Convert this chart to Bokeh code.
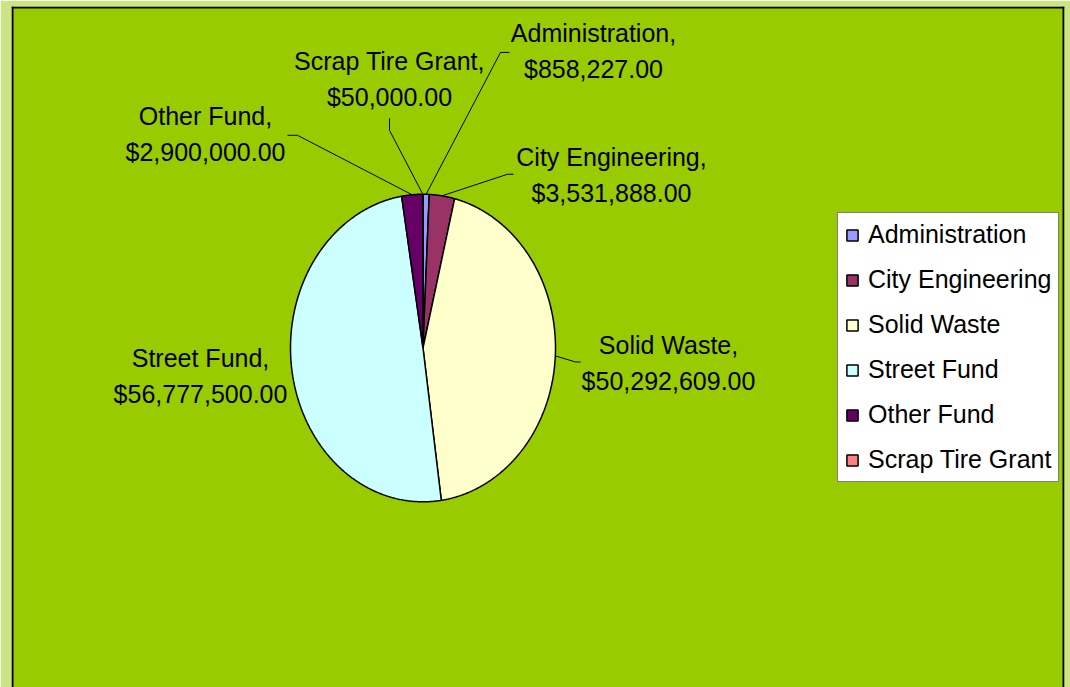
import math
from bokeh.plotting import figure
from bokeh.models import Range1d, Span
from bokeh.core.properties import value
from bokeh.embed import file_html
from bokeh.resources import INLINE

# ---- data ----
categories = ["Administration", "City Engineering", "Solid Waste",
              "Street Fund", "Other Fund", "Scrap Tire Grant"]
amounts = [858227.00, 3531888.00, 50292609.00, 56777500.00, 2900000.00, 50000.00]
colors = ["#9999ff", "#993366", "#ffffcc", "#ccffff", "#660066", "#ff8080"]

# ---- layout (pixels) ----
CX, CY, RX, RY = 422.5, 348.0, 132.5, 154.0
label_centers = {
    "Administration": (593, 51),
    "City Engineering": (611, 175),
    "Solid Waste": (668, 363),
    "Street Fund": (200, 376),
    "Other Fund": (205, 134),
    "Scrap Tire Grant": (389, 79),
}
leader_bends = {
    "Administration": [(500, 52), (509, 52)],
    "City Engineering": [(507, 174), (513, 174)],
    "Solid Waste": [(575, 362), (580, 362)],
    "Street Fund": None,
    "Other Fund": [(297, 135), (287, 135)],
    "Scrap Tire Grant": [(389, 130), (389, 118)],
}
LINE_GAP = 18

def ell(theta_deg):
    t = math.radians(theta_deg)
    return CX + RX * math.sin(t), CY - RY * math.cos(t)

p = figure(width=1070, height=687, output_backend="svg", toolbar_location=None,
           x_axis_type=None, y_axis_type=None,
           x_range=Range1d(11, 1064), y_range=Range1d(688, 6),
           min_border_left=11, min_border_right=6, min_border_top=6, min_border_bottom=0)
p.grid.visible = False
p.background_fill_color = "#99cc00"
p.border_fill_color = "#cde388"
p.outline_line_color = None

# plot-area frame: left, top and right edges (bottom runs off the page)
for loc, dim in [(12, "height"), (1063, "height"), (7, "width")]:
    p.add_layout(Span(location=loc, dimension=dim, line_color="black", line_width=2))

total = sum(amounts)
start = 0.0
font = value("Liberation Sans")
for name, amt, col in zip(categories, amounts, colors):
    span = amt / total * 360.0
    end = start + span
    n = max(2, int(span * 2))
    xs, ys = [CX], [CY]
    for i in range(n + 1):
        x, y = ell(start + span * i / n)
        xs.append(x)
        ys.append(y)
    p.patch(xs, ys, fill_color=col, line_color="black", line_width=1.5,
            legend_label=name)
    mid = start + span / 2
    bends = leader_bends[name]
    if bends:
        ex, ey = ell(mid)
        lx = [ex] + [b[0] for b in bends]
        ly = [ey] + [b[1] for b in bends]
        p.line(lx, ly, line_color="black", line_width=1)
    lcx, lcy = label_centers[name]
    p.text(x=[lcx, lcx], y=[lcy - LINE_GAP, lcy + LINE_GAP],
           text=[name + ",", "${:,.2f}".format(amt)],
           text_align="center", text_baseline="middle",
           text_font=font, text_font_size="25px", text_color="black")
    start = end

lg = p.legend[0]
lg.location = (826, 205)
lg.border_line_color = "black"
lg.border_line_width = 1
lg.background_fill_color = "white"
lg.background_fill_alpha = 1.0
lg.label_text_font = "Liberation Sans"
lg.label_text_font_size = "25px"
lg.label_text_color = "black"
lg.glyph_width = 14
lg.glyph_height = 14
lg.label_standoff = 9
lg.spacing = 16
lg.padding = 7
lg.margin = 0

open("out.html", "w").write(file_html(p, INLINE))
